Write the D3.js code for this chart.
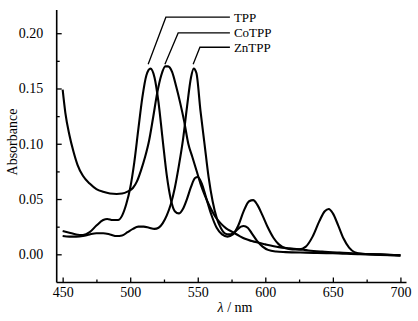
<!DOCTYPE html>
<html><head><meta charset="utf-8">
<script src="https://cdn.jsdelivr.net/npm/d3@7"></script>
<style>body{margin:0;background:#fff}svg{display:block}text{font-family:"Liberation Serif","Times New Roman",serif}</style>
</head><body>
<svg id="c" width="418" height="321"></svg>
<script>
// ---- data ----
const xTicks = [450, 500, 550, 600, 650, 700];
const xMinor = [475, 525, 575, 625, 675];
const yTicks = [0.00, 0.05, 0.10, 0.15, 0.20];
const yMinor = [0.025, 0.075, 0.125, 0.175];

const tppWl = [450,455,460,465,470,475,480,483,487,491,494,497,500,503,506,509,512,515,518,521,524,527,530,533,536,539,542,545,548,550,553,556,560,564,568,572,576,580,584,588,591,594,598,602,606,610,615,620,625,630,635,640,644,647,650,654,658,662,666,672,680,690,700];
const tppAbs = [0.021,0.0195,0.018,0.0175,0.020,0.026,0.031,0.032,0.031,0.031,0.035,0.045,0.060,0.083,0.113,0.142,0.162,0.168,0.160,0.137,0.104,0.072,0.050,0.039,0.037,0.041,0.050,0.061,0.069,0.070,0.064,0.052,0.036,0.024,0.018,0.016,0.018,0.026,0.039,0.048,0.049,0.045,0.035,0.024,0.015,0.009,0.0055,0.0045,0.0045,0.007,0.016,0.030,0.039,0.041,0.037,0.026,0.014,0.006,0.002,0.0005,0.0,-0.0005,-0.001];

const coWl = [450,452,455,458,461,465,470,475,480,485,490,494,498,502,505,508,511,514,517,520,523,526,528,531,534,537,540,543,546,549,552,555,559,563,567,571,576,581,585,590,600,610,618,625,632,642,655,670,685,700];
const coAbs = [0.149,0.128,0.108,0.093,0.081,0.071,0.064,0.059,0.0565,0.055,0.0546,0.055,0.0567,0.060,0.066,0.076,0.088,0.103,0.124,0.146,0.162,0.170,0.170,0.165,0.152,0.137,0.120,0.100,0.088,0.076,0.064,0.054,0.043,0.034,0.028,0.0235,0.020,0.0165,0.014,0.012,0.009,0.0065,0.0054,0.0045,0.0035,0.0025,0.0015,0.0005,0.0,-0.001];

const znWl = [450,455,460,465,470,475,480,485,490,494,498,502,506,510,514,518,521,524,527,530,533,536,539,542,545,547,549,552,555,558,561,564,567,570,573,576,579,582,584,587,590,594,598,602,608,615,630,650,670,685,700];
const znAbs = [0.0165,0.016,0.016,0.0165,0.018,0.019,0.019,0.018,0.0165,0.017,0.020,0.023,0.025,0.025,0.024,0.023,0.024,0.028,0.035,0.045,0.060,0.080,0.103,0.133,0.160,0.168,0.164,0.130,0.100,0.070,0.048,0.033,0.024,0.019,0.018,0.019,0.022,0.025,0.0256,0.024,0.019,0.012,0.007,0.004,0.0025,0.002,0.0015,0.001,0.0,-0.0005,-0.001];

const labels = ["TPP", "CoTPP", "ZnTPP"];
// leader lines in data units
const leaderEndWl = [513.3, 525.7, 546.6];
const leaderEndAbs = [0.172, 0.172, 0.172];
const leaderElbowWl = [526.4, 535.5, 551.6];
const leaderElbowAbs = [0.2145, 0.2003, 0.1873];
const leaderTextWl = 573.8;

// ---- chart ----
const svg = d3.select("#c");
const font = '"Liberation Serif","Times New Roman",serif';
const x = d3.scaleLinear().domain([445.6, 704.5]).range([56.7, 406.5]);
const y = d3.scaleLinear().domain([-0.0255, 0.221]).range([282.5, 10]);

const g = svg.append("g");

const xAxis = d3.axisBottom(x).tickValues(xTicks).tickSize(-5).tickPadding(4.5).tickFormat(d3.format("d"));
g.append("g").attr("transform", `translate(0,${y.range()[0]})`).call(xAxis);
const xMin = d3.axisBottom(x).tickValues(xMinor).tickSize(-3).tickFormat("");
g.append("g").attr("transform", `translate(0,${y.range()[0]})`).call(xMin);

const yAxis = d3.axisLeft(y).tickValues(yTicks).tickSize(-5).tickPadding(13.5).tickFormat(d3.format(".2f"));
g.append("g").attr("transform", `translate(${x.range()[0]},0)`).call(yAxis);
const yMin = d3.axisLeft(y).tickValues(yMinor).tickSize(-3).tickFormat("");
g.append("g").attr("transform", `translate(${x.range()[0]},0)`).call(yMin);

g.selectAll("g").attr("font-family", font);
g.selectAll(".tick line").attr("stroke", "#000").attr("stroke-width", 1.3);
g.selectAll(".tick text").attr("font-family", font).attr("font-size", 14).attr("fill", "#000");

g.selectAll(".domain").remove();
g.append("line").attr("x1", x.range()[0]).attr("x2", x.range()[1]).attr("y1", y.range()[0]).attr("y2", y.range()[0]).attr("stroke", "#000").attr("stroke-width", 1.6);
g.append("line").attr("x1", x.range()[0]).attr("x2", x.range()[0]).attr("y1", y.range()[0]).attr("y2", y.range()[1]).attr("stroke", "#000").attr("stroke-width", 1.6);

const line = d3.line().x(d => x(d[0])).y(d => y(d[1])).curve(d3.curveMonotoneX);
const series = [[tppWl, tppAbs], [coWl, coAbs], [znWl, znAbs]];
series.forEach(([wl, ab]) => {
  g.append("path").datum(wl.map((w, i) => [w, ab[i]]))
    .attr("d", line).attr("fill", "none").attr("stroke", "#000")
    .attr("stroke-width", 2.1).attr("stroke-linejoin", "round");
});

labels.forEach((lab, i) => {
  g.append("polyline")
    .attr("points", [[x(leaderEndWl[i]), y(leaderEndAbs[i])], [x(leaderElbowWl[i]), y(leaderElbowAbs[i])], [x(leaderTextWl), y(leaderElbowAbs[i])]].map(p => p.join(",")).join(" "))
    .attr("fill", "none").attr("stroke", "#000").attr("stroke-width", 1.3);
  g.append("text").attr("x", x(leaderTextWl) + 4).attr("y", y(leaderElbowAbs[i]))
    .attr("dy", "0.35em").attr("font-family", font).attr("font-size", 13).attr("fill", "#000").text(lab);
});

svg.append("text").attr("transform", `translate(17,142) rotate(-90)`).attr("text-anchor", "middle")
  .attr("font-family", font).attr("font-size", 14).text("Absorbance");
const xt = svg.append("text").attr("x", 235).attr("y", 312).attr("text-anchor", "middle")
  .attr("font-family", font).attr("font-size", 14);
xt.append("tspan").attr("font-style", "italic").text("λ");
xt.append("tspan").text(" / nm");
</script>
</body></html>
